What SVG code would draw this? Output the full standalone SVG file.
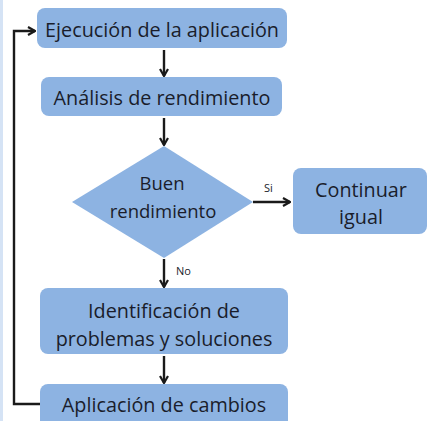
<svg xmlns="http://www.w3.org/2000/svg" width="429" height="421" viewBox="0 0 429 421">
<defs>
<style>
.box{fill:#8db3e2;}
.t{font-family:"Open Sans","Noto Sans",sans-serif;font-size:19.8px;fill:#1a1d2b;text-anchor:middle;}
.d{font-size:18.5px;}
.s{font-family:"Open Sans","Noto Sans",sans-serif;font-size:11px;fill:#1a1d2b;}
.c{fill:none;stroke:#1a1a1a;stroke-width:2.4;}
</style>
<marker id="ah" viewBox="0 0 10 10" refX="9" refY="5" markerWidth="10" markerHeight="10" markerUnits="userSpaceOnUse" orient="auto">
<path d="M2,1 L9,5 L2,9" fill="none" stroke="#1a1a1a" stroke-width="2.2"/>
</marker>
</defs>
<rect x="0" y="0" width="429" height="421" fill="#ffffff"/>
<rect x="0" y="0" width="3" height="421" fill="#d5e3f5"/>
<g id="n1"><rect class="box" x="37" y="8" width="250" height="40" rx="8"/><text class="t" x="162" y="37">Ejecución de la aplicación</text></g>
<g id="n2"><rect class="box" x="41" y="77" width="241" height="39" rx="8"/><text class="t" x="162" y="105">Análisis de rendimiento</text></g>
<g id="n3"><polygon class="box" points="164,146 253,202 164,258 72,202"/><text class="t d" x="162" y="190">Buen</text><text class="t d" x="163" y="218">rendimiento</text></g>
<g id="n4"><rect class="box" x="293" y="168" width="134" height="66" rx="8"/><text class="t" x="361" y="197">Continuar</text><text class="t" x="361" y="224">igual</text></g>
<g id="n5"><rect class="box" x="40" y="288" width="248" height="66" rx="8"/><text class="t" x="164" y="318">Identificación de</text><text class="t" x="164" y="346">problemas y soluciones</text></g>
<g id="n6"><rect class="box" x="40" y="384" width="248" height="48" rx="8"/><text class="t" x="164" y="412">Aplicación de cambios</text></g>
<g id="connectors">
<line class="c" x1="164" y1="50" x2="164" y2="76" marker-end="url(#ah)"/>
<line class="c" x1="164" y1="118" x2="164" y2="145" marker-end="url(#ah)"/>
<line class="c" x1="253" y1="202" x2="290" y2="202" marker-end="url(#ah)"/>
<text class="s" x="264" y="192">Si</text>
<line class="c" x1="164" y1="259" x2="164" y2="287" marker-end="url(#ah)"/>
<text class="s" x="176" y="275">No</text>
<line class="c" x1="164" y1="356" x2="164" y2="383" marker-end="url(#ah)"/>
<path class="c" d="M40,404 H14 V31 H35" marker-end="url(#ah)"/>
</g>
</svg>
